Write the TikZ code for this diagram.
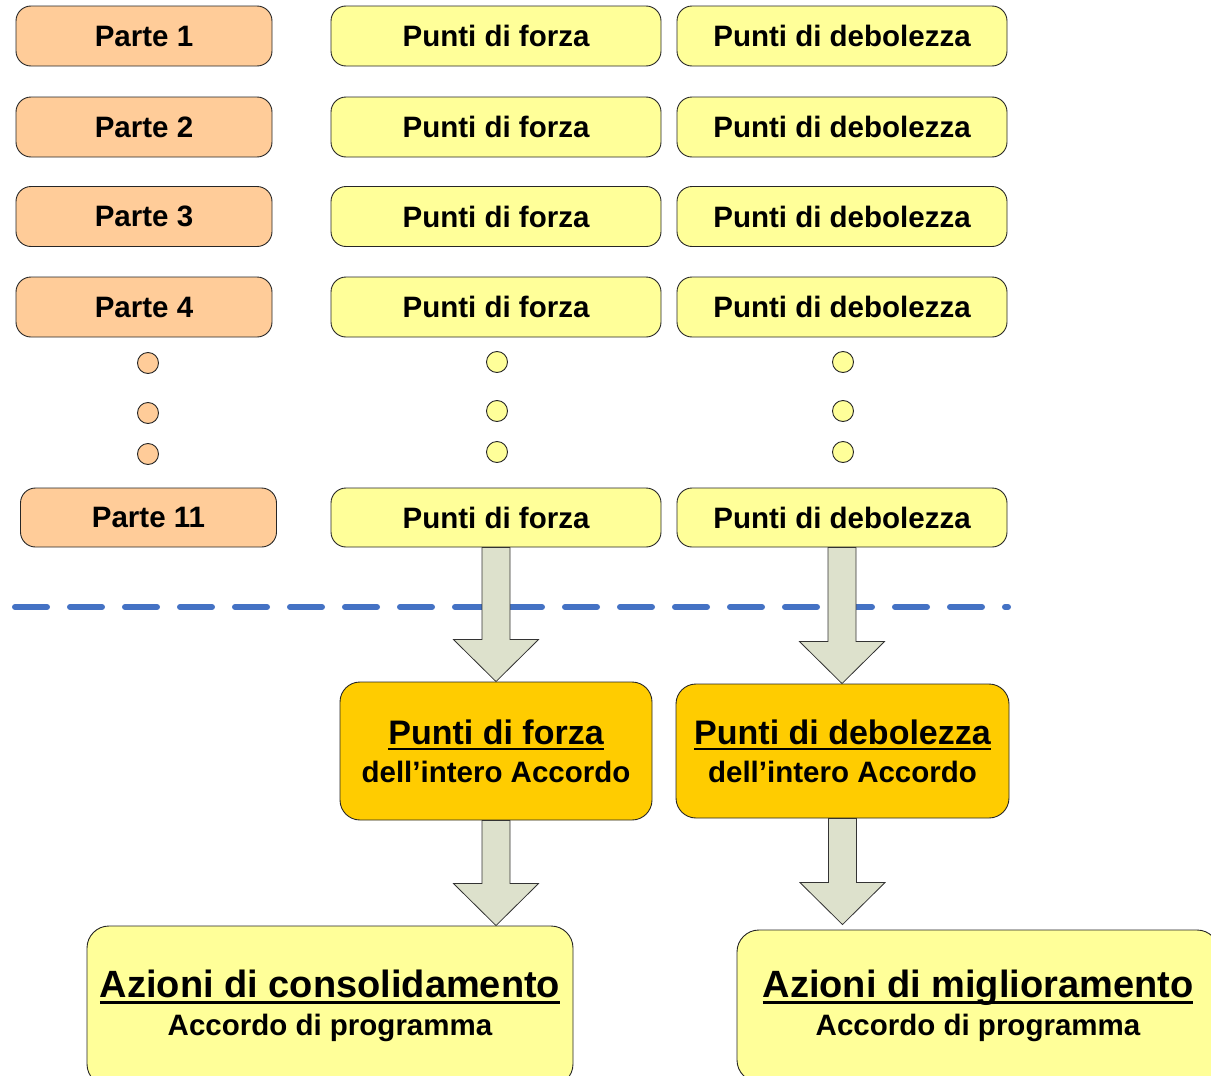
\documentclass[tikz,border=0pt]{standalone}
\usepackage{fontspec}
\setmainfont{Liberation Sans}
\usetikzlibrary{calc}
\definecolor{peach}{RGB}{255,204,153}
\definecolor{lyellow}{RGB}{255,255,153}
\definecolor{gold}{RGB}{255,204,0}
\definecolor{arrowfill}{RGB}{221,225,204}
\definecolor{dashblue}{RGB}{68,114,196}
\newcommand\myul[1]{\setbox0\hbox{#1}\rlap{\raisebox{-6pt}{\rule{\wd0}{2.6pt}}}\box0}
\newcommand\blockarrow[3]{%
  \draw[barrow] let \p1=(#1.south), \p2=($(#2.north)+(0,-#3)$) in
    (\x1-14pt,\y1) -- (\x1-14pt,\y2+42pt) -- (\x1-42.5pt,\y2+42pt) -- (\x1,\y2)
    -- (\x1+42.5pt,\y2+42pt) -- (\x1+14pt,\y2+42pt) -- (\x1+14pt,\y1) -- cycle;}
\begin{document}
\begin{tikzpicture}[x=1pt,y=-1pt,
  box/.style={draw=black!85,line width=0.9pt,rounded corners=15pt,inner sep=0pt,
    font=\fontsize{29.5}{36}\selectfont\bfseries,text=black},
  parte/.style={box,fill=peach,minimum width=256pt,minimum height=60pt},
  forza/.style={box,fill=lyellow,minimum width=330pt,minimum height=60pt},
  bigbox/.style={box,fill=gold,rounded corners=20pt,align=center,
    font=\fontsize{29.5}{38}\selectfont\bfseries},
  actbox/.style={box,fill=lyellow,rounded corners=22pt,align=center,
    font=\fontsize{29.5}{38}\selectfont\bfseries},
  pdot/.style={circle,draw=black!85,line width=0.9pt,minimum size=21pt,inner sep=0pt},
  barrow/.style={draw=black!80,line width=0.8pt,fill=arrowfill},
  sep/.style={draw=dashblue,line width=6pt,line cap=round,dash pattern=on 32pt off 23pt}]
\useasboundingbox (0,0) rectangle (1211,1076);
\clip (0,0) rectangle (1211,1076);
% rows
\node[parte] (p1) at (144,36) {Parte 1};
\node[forza] (f1) at (496,36) {Punti di forza};
\node[forza] (d1) at (842,36) {Punti di debolezza};
\node[parte] (p2) at (144,127) {Parte 2};
\node[forza] (f2) at (496,127) {Punti di forza};
\node[forza] (d2) at (842,127) {Punti di debolezza};
\node[parte] (p3) at (144,216.5) {Parte 3};
\node[forza] (f3) at (496,216.5) {Punti di forza};
\node[forza] (d3) at (842,216.5) {Punti di debolezza};
\node[parte] (p4) at (144,307) {Parte 4};
\node[forza] (f4) at (496,307) {Punti di forza};
\node[forza] (d4) at (842,307) {Punti di debolezza};
\node[parte,minimum height=59pt] (p11) at (148.5,517.5) {Parte 11};
\node[forza,minimum height=59pt] (f11) at (496,517.5) {Punti di forza};
\node[forza,minimum height=59pt] (d11) at (842,517.5) {Punti di debolezza};
% dots
\node[pdot,fill=peach] (pa) at (148,363) {};
\node[pdot,fill=peach] (pb) at (148,413) {};
\node[pdot,fill=peach] (pc) at (148,454) {};
\node[pdot,fill=lyellow] (fa) at (497,362) {};
\node[pdot,fill=lyellow] (fb1) at (497,411) {};
\node[pdot,fill=lyellow] (fc) at (497,452) {};
\node[pdot,fill=lyellow] (da) at (843,362) {};
\node[pdot,fill=lyellow] (db1) at (843,411) {};
\node[pdot,fill=lyellow] (dc) at (843,452) {};
% separator
\coordinate (sl) at (15,607);
\coordinate (sr) at (1008,607);
\draw[sep] (sl) -- (sr);
% summary boxes
\node[bigbox,minimum width=312pt,minimum height=138pt] (fb) at (496,751)
  {{\fontsize{34}{38}\selectfont\myul{Punti di forza}}\\dell’intero Accordo};
\node[bigbox,minimum width=333pt,minimum height=134pt] (db) at (842.5,751)
  {{\fontsize{34}{38}\selectfont\myul{Punti di debolezza}}\\dell’intero Accordo};
% action boxes
\node[actbox,minimum width=486pt,minimum height=160pt] (ac) at (330,1006)
  {{\fontsize{38}{38}\selectfont\myul{Azioni di consolidamento}}\\Accordo di programma};
\node[actbox,minimum width=482pt,minimum height=152pt] (am) at (978,1006)
  {{\fontsize{38}{38}\selectfont\myul{Azioni di miglioramento}}\\Accordo di programma};
% arrows
\blockarrow{f11}{fb}{0}
\blockarrow{d11}{db}{0}
\blockarrow{fb}{ac}{0}
\blockarrow{db}{am}{5}
\end{tikzpicture}
\end{document}
